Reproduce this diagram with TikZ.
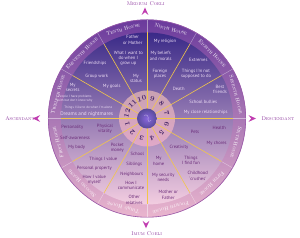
\documentclass[tikz,border=0pt]{standalone}
\usepackage{fontspec}
\newfontfamily\cont{PT Sans}
\definecolor{ringtop}{HTML}{6A3A9C}
\definecolor{ringmid}{HTML}{BE6CB6}
\definecolor{ringbot}{HTML}{EAB6CE}
\definecolor{ringedge}{HTML}{9A5AAA}
\definecolor{disctop}{HTML}{3A2A88}
\definecolor{discmid}{HTML}{B070B6}
\definecolor{discbot}{HTML}{F3CDE0}
\definecolor{numtop}{HTML}{C9A2B2}
\definecolor{numbot}{HTML}{E0A8C8}
\definecolor{gold}{HTML}{F2C64A}
\definecolor{txtlight}{HTML}{ECDCF4}
\definecolor{txtdark}{HTML}{6A2A78}
\definecolor{numcol}{HTML}{4A2A6A}
\definecolor{polecol}{HTML}{8E3A9E}
\definecolor{chevcol}{HTML}{C03CB0}
\begin{document}
\begin{tikzpicture}[x=1pt,y=1pt,
  cont/.style={font=\cont\fontsize{4.6}{5.3}\selectfont, align=center, inner sep=0pt},
  lt/.style={cont, text=txtlight},
  dk/.style={cont, text=txtdark},
  tinytext/.style={font=\cont\fontsize{3.3}{3.9}\selectfont},
  biggertext/.style={font=\cont\fontsize{5.2}{6}\selectfont},
  house/.style={font=\fontsize{5.2}{6}\selectfont\scshape, text=white, inner sep=0pt},
  num/.style={font=\fontsize{7}{8}\selectfont\bfseries, text=numcol, inner sep=0pt},
  pole/.style={font=\fontsize{5.4}{6}\selectfont\scshape, text=polecol, inner sep=0pt},
  spoke/.style={draw=gold, line width=0.6pt},
  ringline/.style={draw=white, draw opacity=0.45, line width=0.4pt},
  chev/.style={fill=chevcol, draw=none}]
\useasboundingbox (-147,-119.5) rectangle (153,118.5);
% wheel
\shade[top color=ringtop, middle color=ringmid, bottom color=ringbot] (0,0) circle (99);
\draw[ringedge, line width=0.6pt] (0,0) circle (98.7);
\foreach \a in {0,30,...,330} \draw[ringline] (\a:86) -- (\a:98.5);
\shade[top color=disctop, middle color=discmid, bottom color=discbot] (0,0) circle (86);
\shade[top color=numtop, bottom color=numbot] (0,0) circle (28);
\foreach \a in {0,30,...,330} \draw[spoke] (\a:9.5) -- (\a:86);
\shade[inner color=violet!45!blue!60!white, outer color=disctop!85!white] (0,0) circle (10);
\draw[white, opacity=0.6, line width=0.3pt] (-3,3) .. controls (0,5) and (2,2) .. (1,-1) .. controls (0,-3) and (3,-4) .. (4,-2);
% house labels
\foreach \a/\t [count=\i] in {105/Tenth House, 75/Ninth House, 45/Eighth House, 15/Seventh House, -15/Sixth House, -45/Fifth House, -75/Fourth House, -105/Third House, -135/Second House, -165/First House, 165/Twelfth House, 135/Eleventh House}
  \node[house, rotate=\a-90] (h\i) at (\a:92.3) {\t};
% numbers
\foreach \a/\n in {105/10, 75/9, 45/8, 15/7, -15/6, -45/5, -75/4, -105/3, -135/2, -165/1, 165/12, 135/11}
  \node[num, rotate=\a-90] (n\n) at (\a:20.5) {\n};
% upper texts
\node[lt] (t1) at (-14.3,78.5) {Father\\or Mother};
\node[lt] (t2) at (-18.7,60.2) {What I want to\\do when I\\grow up};
\node[lt] (t3) at (-11,40.2) {My\\status};
\node[lt] (t4) at (-52,55.2) {Friendships};
\node[lt] (t5) at (-50.3,42.5) {Group work};
\node[lt] (t6) at (-35.3,31.8) {My goals};
\node[lt] (t7) at (18,77.5) {My religion};
\node[lt] (t8) at (13.7,62.5) {My beliefs\\and morals};
\node[lt] (t9) at (13,44.5) {Foreign\\places};
\node[lt] (t10) at (51.3,58.5) {Extremes};
\node[lt] (t11) at (49,44.5) {Things I'm not\\supposed to do};
\node[lt] (t12) at (31.7,29.5) {Death};
\node[lt] (t13) at (73,29.2) {Best\\friends};
\node[lt] (t14) at (56.3,16.2) {School bullies};
\node[lt] (t15) at (58.7,5.8) {My close relationships};
\node[lt] (t16) at (-74.3,31.2) {My\\secrets};
\node[lt, tinytext] (t17) at (-72,20.2) {People I have problems\\with but don't know why};
\node[lt, tinytext] (t18) at (-58.7,11.2) {Things I like to do when I'm alone};
\node[lt, biggertext] (t19) at (-60.3,4.5) {Dreams and nightmares};
% lower texts
\node[dk] (b1) at (-74.7,-8.8) {Personality};
\node[dk] (b2) at (-42,-10.2) {Physical\\vitality};
\node[dk] (b3) at (-72,-19.2) {Self-awareness};
\node[dk] (b4) at (-70.3,-28.5) {My body};
\node[dk] (b5) at (-29.7,-29.2) {Pocket\\money};
\node[dk] (b6) at (-43.7,-40.8) {Things I value};
\node[dk] (b7) at (-52.7,-50.2) {Personal property};
\node[dk] (b8) at (-52.7,-61.5) {How I value\\myself};
\node[dk] (b9) at (-9.7,-35.8) {School};
\node[dk] (b10) at (-12.7,-45.5) {Siblings};
\node[dk] (b11) at (-15.3,-55.5) {Neighbours};
\node[dk] (b12) at (-16,-67.2) {How I\\communicate};
\node[dk] (b13) at (-12.7,-81.5) {Other\\relatives};
\node[dk] (b14) at (11.7,-42.5) {My\\home};
\node[dk] (b15) at (16.3,-58.8) {My security\\needs};
\node[dk] (b16) at (21.3,-76.5) {Mother or\\Father};
\node[dk] (b17) at (32,-29.2) {Creativity};
\node[dk] (b18) at (44,-42.2) {Things\\I find fun};
\node[dk] (b19) at (50.7,-57.5) {Childhood\\`crushes'};
\node[dk] (b20) at (48,-13.5) {Pets};
\node[dk] (b21) at (72.3,-9.8) {Health};
\node[dk] (b22) at (69.7,-24.8) {My chores};
% poles
\node[pole] (mc) at (-1.3,114.5) {Medium Coeli};
\node[pole] (ic) at (-0.3,-114.8) {Imum Coeli};
\node[pole] (asc) at (-127,-0.5) {Ascendant};
\node[pole] (dsc) at (131,-0.5) {Descendant};
\fill[chev] (-2,111) -- (-5.4,103.5) -- (-2,106.2) -- (1.4,103.5) -- cycle;
\fill[chev] (-1,-109.8) -- (-4.4,-102.3) -- (-1,-105) -- (2.4,-102.3) -- cycle;
\fill[chev] (-114.3,0) -- (-106.8,3.4) -- (-109.5,0) -- (-106.8,-3.4) -- cycle;
\fill[chev] (109,0) -- (101.5,3.4) -- (104.2,0) -- (101.5,-3.4) -- cycle;
\end{tikzpicture}
\end{document}
